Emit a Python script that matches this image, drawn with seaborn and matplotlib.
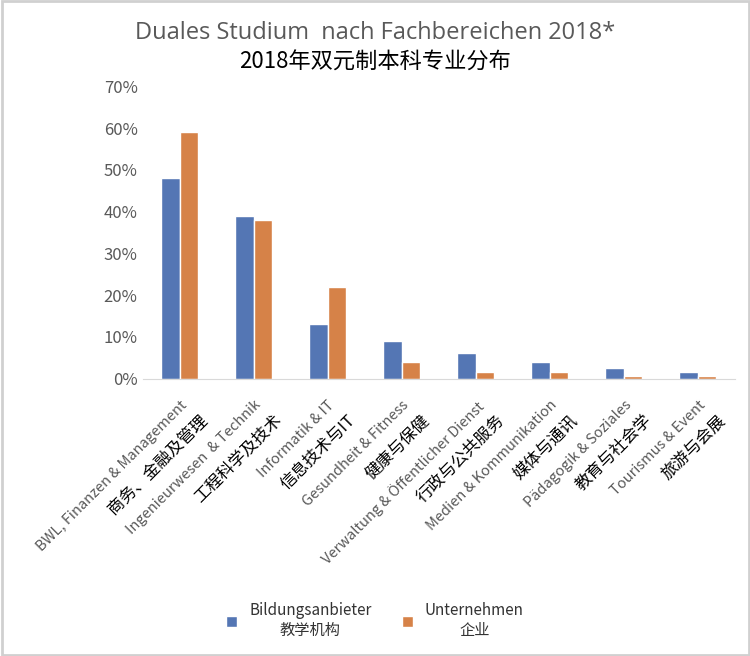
import numpy as np
import pandas as pd
import matplotlib
matplotlib.use('Agg')
import matplotlib.pyplot as plt
import seaborn as sns

sns.set_style('white')
plt.rcParams['font.family'] = ['Noto Sans CJK SC', 'DejaVu Sans']

bereiche_de = ['BWL, Finanzen & Management', 'Ingenieurwesen  & Technik', 'Informatik & IT',
               'Gesundheit & Fitness', 'Verwaltung & Öffentlicher Dienst', 'Medien & Kommunikation',
               'Pädagogik & Soziales', 'Tourismus & Event']
bereiche_zh = ['商务、金融及管理', '工程科学及技术', '信息技术与IT', '健康与保健',
               '行政与公共服务', '媒体与通讯', '教育与社会学', '旅游与会展']
bildung = [48, 39, 13, 9, 6, 4, 2.5, 1.5]
unternehmen = [59, 38, 22, 4, 1.5, 1.5, 0.5, 0.5]
serien = ['Bildungsanbieter\n教学机构', 'Unternehmen\n企业']

df = pd.DataFrame({'Bereich': bereiche_de * 2,
                   'Wert': bildung + unternehmen,
                   'Serie': [serien[0]] * 8 + [serien[1]] * 8})

fig = plt.figure(figsize=(7.5, 6.56), dpi=100)
ax = fig.add_axes([0.19, 0.423, 0.79, 0.445])
sns.barplot(data=df, x='Bereich', y='Wert', hue='Serie', palette=['#4472C4', '#ED7D31'],
            width=0.5, ax=ax)

ax.set_ylim(0, 70)
ax.set_yticks(range(0, 71, 10))
ax.set_yticklabels([f'{v}%' for v in range(0, 71, 10)], fontsize=12, color='#595959')
ax.set_xlabel('')
ax.set_ylabel('')
ax.tick_params(axis='both', length=0)
for s in ['top', 'right', 'left']:
    ax.spines[s].set_visible(False)
ax.spines['bottom'].set_color('#D9D9D9')

ax.set_xticks(range(8))
ax.set_xticklabels(bereiche_de, rotation=45, ha='right', va='top', rotation_mode='anchor',
                   fontsize=10.5, color='#595959')
ax.tick_params(axis='x', pad=14)
for i, zh in enumerate(bereiche_zh):
    ax.annotate(zh, xy=(i, 0), xycoords=('data', 'axes fraction'),
                xytext=(14, -24), textcoords='offset points', rotation=45,
                ha='right', va='top', rotation_mode='anchor', fontsize=12, color='black')

handles, labels = ax.get_legend_handles_labels()
ax.get_legend().remove()
leg = fig.legend(handles, labels, loc='lower center', bbox_to_anchor=(0.5, 0.005), ncol=2,
                 frameon=False, fontsize=11, handlelength=0.7, handleheight=0.7,
                 columnspacing=2)
for t in leg.get_texts():
    t.set_color('#333333')
    t.set_ha('center')

fig.text(0.5, 0.94, 'Duales Studium  nach Fachbereichen 2018*', ha='center', fontsize=17,
         color='#595959', family=['Open Sans', 'DejaVu Sans'])
fig.text(0.5, 0.895, '2018年双元制本科专业分布', ha='center', fontsize=16, color='black')

fig.patches.append(plt.Rectangle((0.002, 0.002), 0.996, 0.996, transform=fig.transFigure,
                                 fill=False, edgecolor='#D0D0D0', linewidth=2))
fig.savefig('out.png', dpi=100)
